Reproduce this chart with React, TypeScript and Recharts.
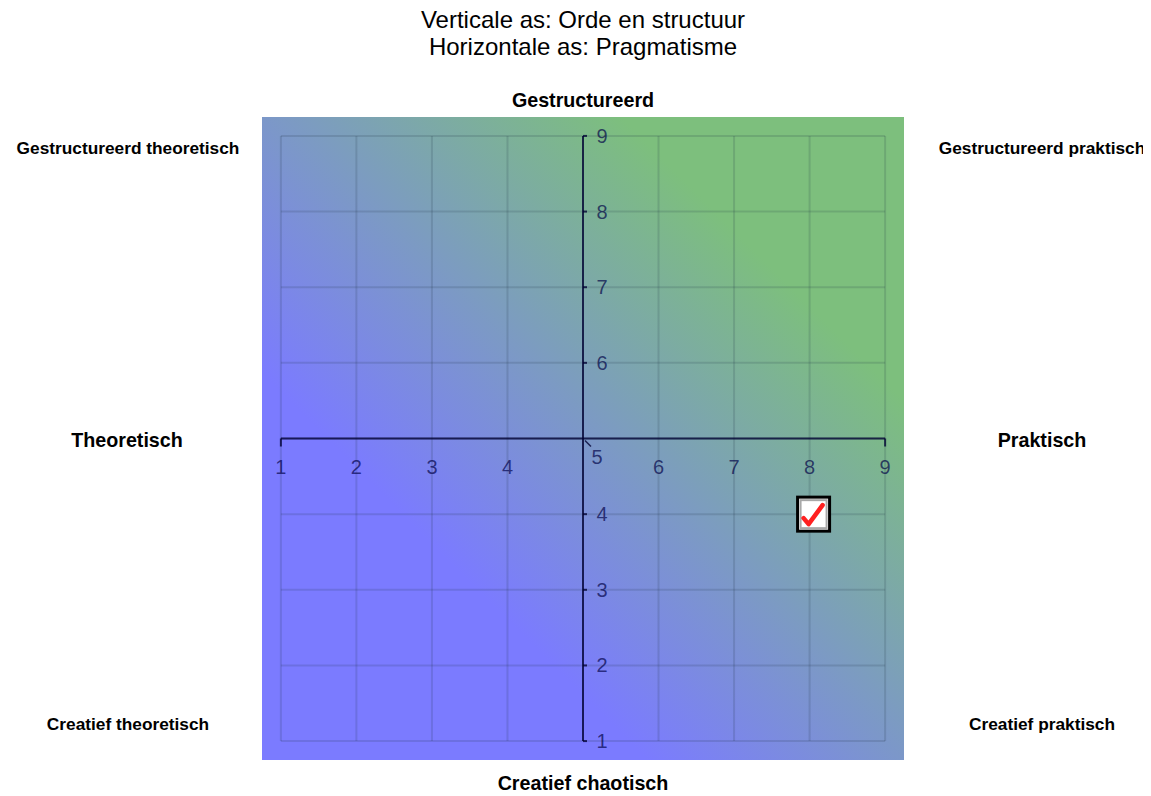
import React from "react";
import { ScatterChart, Scatter, XAxis, YAxis, CartesianGrid, ReferenceLine } from "recharts";

const titleLines = ["Verticale as: Orde en structuur", "Horizontale as: Pragmatisme"];
const xTicks = [1, 2, 3, 4, 5, 6, 7, 8, 9];
const yTicks = [1, 2, 3, 4, 5, 6, 7, 8, 9];
const axisDomain = [0.75, 9.25];
const originValue = 5;
const markerPoints = [{ x: 8, y: 4 }];
const sideLabels = {
  top: "Gestructureerd",
  bottom: "Creatief chaotisch",
  left: "Theoretisch",
  right: "Praktisch",
  topLeft: "Gestructureerd theoretisch",
  topRight: "Gestructureerd praktisch",
  bottomLeft: "Creatief theoretisch",
  bottomRight: "Creatief praktisch",
};

const W = 1151;
const H = 796;
const FONT = "'Liberation Sans', Arial, Helvetica, sans-serif";
const GRID = "rgba(30,50,70,0.16)";
const AXIS = "rgba(0,0,50,0.78)";
const TICK_TEXT = "rgba(0,0,70,0.68)";

const xLabelPts = xTicks.filter((v) => v !== originValue).map((v) => ({ x: v, y: originValue }));
const yLabelPts = yTicks.filter((v) => v !== originValue).map((v) => ({ x: originValue, y: v }));
const originPts = [{ x: originValue, y: originValue }];
const hEndPts = [{ x: xTicks[0], y: originValue }, { x: xTicks[xTicks.length - 1], y: originValue }];

const XLabel = (p: any) => (
  <text x={p.cx} y={p.cy + 35} textAnchor="middle" fontSize={20} fontFamily={FONT} fill={TICK_TEXT}>
    {p.payload.x}
  </text>
);
const YLabel = (p: any) => (
  <g>
    <line x1={p.cx} y1={p.cy} x2={p.cx + 4} y2={p.cy} stroke={AXIS} strokeWidth={2} />
    <text x={p.cx + 19} y={p.cy + 7} textAnchor="middle" fontSize={20} fontFamily={FONT} fill={TICK_TEXT}>
      {p.payload.y}
    </text>
  </g>
);
const OriginLabel = (p: any) => (
  <g>
    <line x1={p.cx + 2} y1={p.cy + 2} x2={p.cx + 8} y2={p.cy + 8} stroke={AXIS} strokeWidth={1.5} />
    <text x={p.cx + 14} y={p.cy + 25} textAnchor="middle" fontSize={20} fontFamily={FONT} fill={TICK_TEXT}>
      {p.payload.x}
    </text>
  </g>
);
const HEndTick = (p: any) => (
  <line x1={p.cx} y1={p.cy} x2={p.cx} y2={p.cy + 8} stroke={AXIS} strokeWidth={2} />
);
const Marker = (p: any) => {
  const cx = p.cx + 4;
  const cy = p.cy;
  return (
    <g>
      <rect x={cx - 16} y={cy - 17} width={32} height={34} fill="#ffffff" stroke="#000" strokeWidth={3} />
      <rect x={cx - 13} y={cy - 14} width={26} height={28} fill="#ffffff" stroke="#a8a8a8" strokeWidth={2} />
      <path
        d={`M ${cx - 10} ${cy + 4} L ${cx - 5} ${cy + 10} L ${cx + 9} ${cy - 9}`}
        fill="none"
        stroke="#ff2020"
        strokeWidth={4.5}
        strokeLinecap="round"
        strokeLinejoin="round"
      />
    </g>
  );
};

export default function App() {
  return (
    <div style={{ position: "relative", width: W, height: H, margin: "-8px 0 0 -8px", background: "#fff" }}>
      <svg width={0} height={0} style={{ position: "absolute" }}>
        <defs>
          <linearGradient id="bgGrad" x1="0" y1="1" x2="1" y2="0">
            <stop offset="0.3" stopColor="#7b7bff" />
            <stop offset="0.78" stopColor="#7dbf7d" />
          </linearGradient>
        </defs>
      </svg>
      <ScatterChart width={W} height={H} margin={{ top: 117, right: 247, bottom: 36, left: 262 }}>
        <CartesianGrid horizontal={false} vertical={false} fill="url(#bgGrad)" stroke="none" />
        <XAxis type="number" dataKey="x" domain={axisDomain} ticks={xTicks} hide allowDataOverflow />
        <YAxis type="number" dataKey="y" domain={axisDomain} ticks={yTicks} hide allowDataOverflow />
        {yTicks.map((v) => (
          <ReferenceLine
            key={"h" + v}
            segment={[{ x: xTicks[0], y: v }, { x: xTicks[xTicks.length - 1], y: v }]}
            stroke={GRID}
            strokeWidth={2}
          />
        ))}
        {xTicks.map((v) => (
          <ReferenceLine
            key={"v" + v}
            segment={[{ x: v, y: yTicks[0] }, { x: v, y: yTicks[yTicks.length - 1] }]}
            stroke={GRID}
            strokeWidth={2}
          />
        ))}
        <ReferenceLine
          segment={[{ x: xTicks[0], y: originValue }, { x: xTicks[xTicks.length - 1], y: originValue }]}
          stroke={AXIS}
          strokeWidth={2}
        />
        <ReferenceLine
          segment={[{ x: originValue, y: yTicks[0] }, { x: originValue, y: yTicks[yTicks.length - 1] }]}
          stroke={AXIS}
          strokeWidth={2}
        />
        <Scatter data={hEndPts} shape={HEndTick} isAnimationActive={false} />
        <Scatter data={xLabelPts} shape={XLabel} isAnimationActive={false} />
        <Scatter data={yLabelPts} shape={YLabel} isAnimationActive={false} />
        <Scatter data={originPts} shape={OriginLabel} isAnimationActive={false} />
        <Scatter data={markerPoints} shape={Marker} isAnimationActive={false} />
      </ScatterChart>
      <svg width={W} height={H} style={{ position: "absolute", left: 0, top: 0, pointerEvents: "none" }}>
        <text x={583} y={28} textAnchor="middle" fontSize={24} fontFamily={FONT} fill="#000">{titleLines[0]}</text>
        <text x={583} y={55} textAnchor="middle" fontSize={24} fontFamily={FONT} fill="#000">{titleLines[1]}</text>
        <g fontFamily={FONT} fontWeight="bold" fill="#000" textAnchor="middle">
          <text x={583} y={107} fontSize={19.7}>{sideLabels.top}</text>
          <text x={583} y={790} fontSize={19.7}>{sideLabels.bottom}</text>
          <text x={127} y={447} fontSize={19.7}>{sideLabels.left}</text>
          <text x={1042} y={447} fontSize={19.7}>{sideLabels.right}</text>
          <text x={128} y={154} fontSize={17.3}>{sideLabels.topLeft}</text>
          <text x={1042} y={154} fontSize={17.3}>{sideLabels.topRight}</text>
          <text x={128} y={730} fontSize={17.3}>{sideLabels.bottomLeft}</text>
          <text x={1042} y={730} fontSize={17.3}>{sideLabels.bottomRight}</text>
        </g>
      </svg>
    </div>
  );
}
